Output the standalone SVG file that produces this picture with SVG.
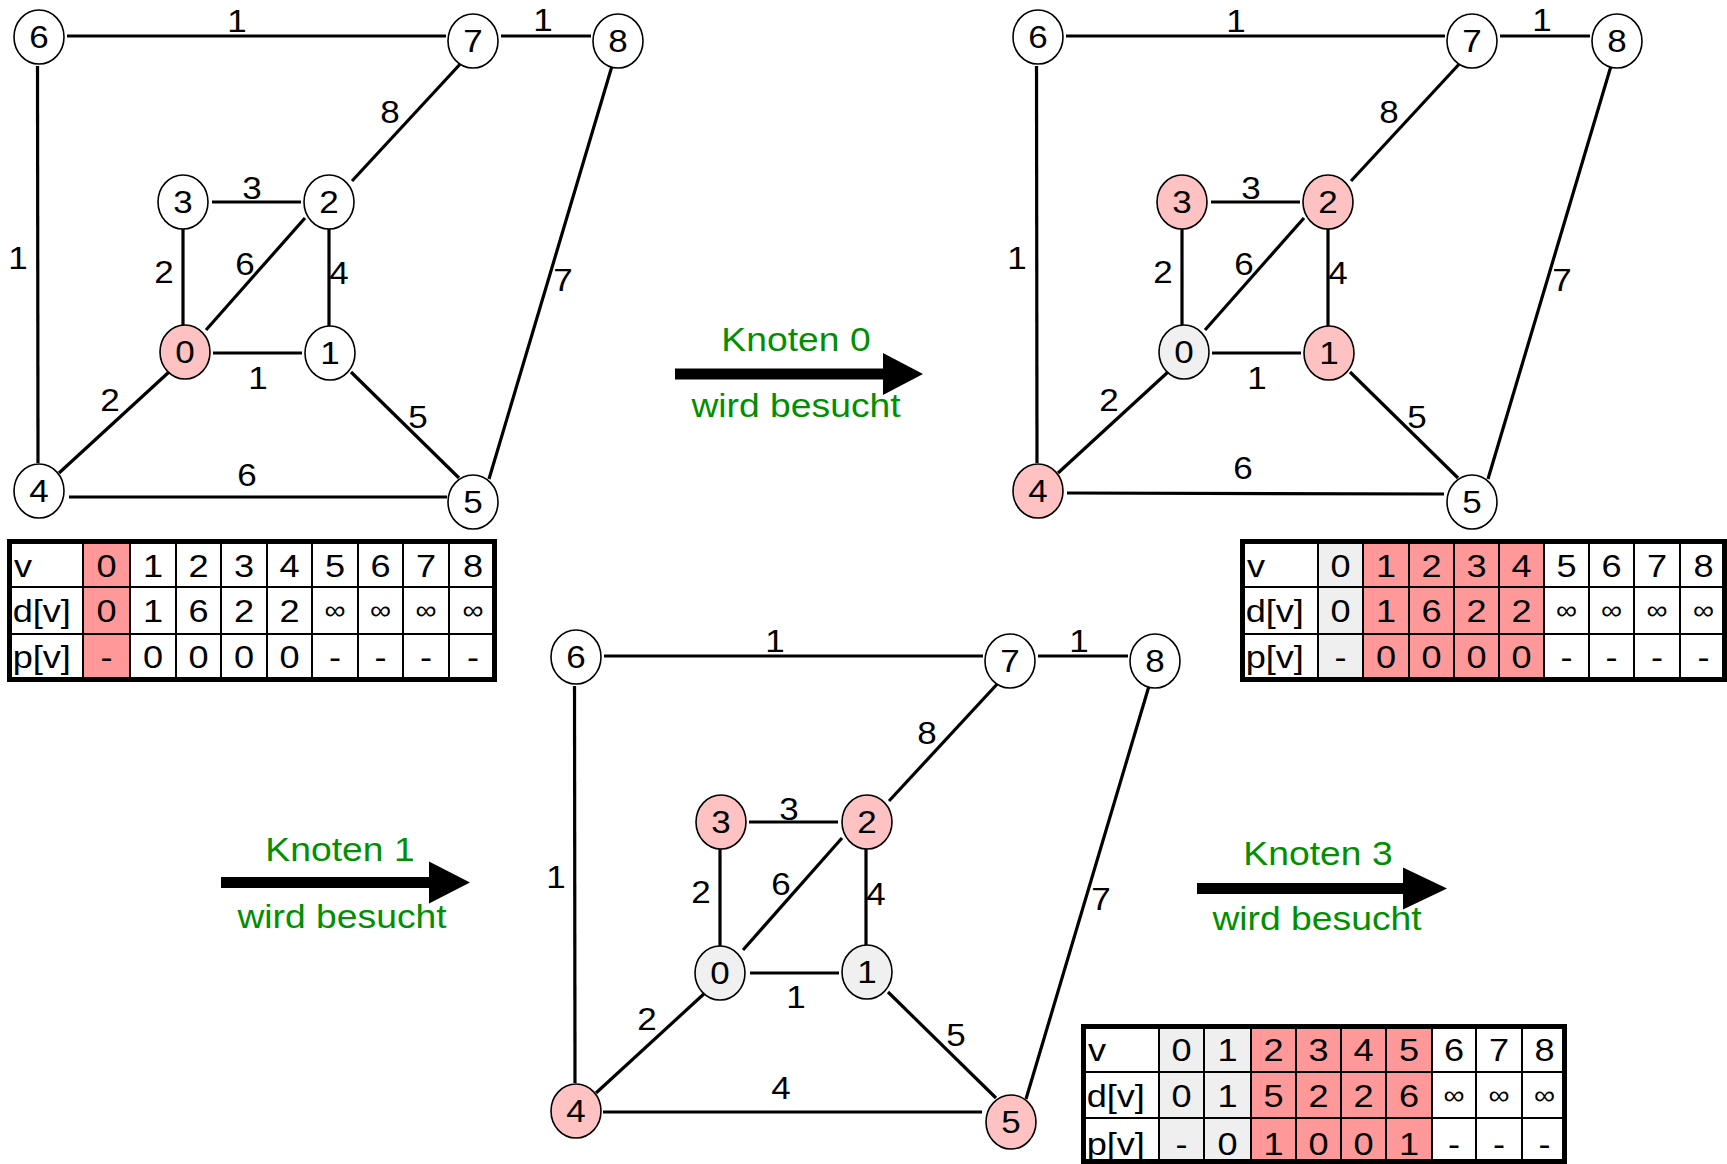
<svg xmlns="http://www.w3.org/2000/svg" width="1727" height="1164" viewBox="0 0 1727 1164">
<style>
text { font-family: "Liberation Sans", Arial, sans-serif; fill:#000; transform-box: fill-box; transform-origin: center; transform: scaleX(1.13); }
.edge line { stroke:#000; stroke-width:3.2; }
.node ellipse { stroke:#000; stroke-width:1.6; }
.w { fill:#fff; } .p { fill:#ffc2c2; } .g { fill:#f0f0f0; }
.nl { font-size:31px; text-anchor:middle; }
.el { font-size:31px; text-anchor:middle; }
.tc { font-size:32px; text-anchor:middle; }
.inf { font-size:26px; text-anchor:middle; }
.rl { font-size:32px; }
.cap { font-size:33px; text-anchor:middle; fill:#008f00; }
.grid line { stroke:#000; stroke-width:2; }
.tb { fill:none; stroke:#000; stroke-width:5; }
.pk { fill:#ff9999; } .gy { fill:#efefef; } .bg { fill:#fff; }
.shaft { stroke:#000; stroke-width:11; }
</style>

<!-- Graph 1 -->
<g id="graph1">
  <g id="g1-connectors" class="edge">
    <line x1="67" y1="36" x2="446" y2="36"/>
    <line x1="501" y1="36" x2="591" y2="36"/>
    <line x1="37.5" y1="66" x2="38" y2="463"/>
    <line x1="612" y1="66" x2="489" y2="479"/>
    <line x1="463" y1="61" x2="352" y2="181"/>
    <line x1="212" y1="202" x2="301" y2="202"/>
    <line x1="183" y1="229" x2="183" y2="326"/>
    <line x1="305" y1="218" x2="206" y2="330"/>
    <line x1="329" y1="229" x2="329" y2="326"/>
    <line x1="213" y1="353" x2="302" y2="353"/>
    <line x1="169" y1="372" x2="59" y2="473"/>
    <line x1="351" y1="372" x2="459" y2="478"/>
    <line x1="69" y1="497" x2="447" y2="497"/>
    <text class="el" x="237" y="32">1</text>
    <text class="el" x="543" y="31">1</text>
    <text class="el" x="390" y="123">8</text>
    <text class="el" x="252" y="199">3</text>
    <text class="el" x="164" y="283">2</text>
    <text class="el" x="245" y="275">6</text>
    <text class="el" x="339" y="284">4</text>
    <text class="el" x="18" y="269">1</text>
    <text class="el" x="563" y="291">7</text>
    <text class="el" x="258" y="389">1</text>
    <text class="el" x="110" y="411">2</text>
    <text class="el" x="418" y="428">5</text>
    <text class="el" x="247" y="486">6</text>
  </g>
  <g id="g1-n6" class="node"><ellipse class="w" cx="39" cy="37" rx="25" ry="27"/><text class="nl" x="39" y="48">6</text></g>
  <g id="g1-n7" class="node"><ellipse class="w" cx="473" cy="41" rx="25" ry="27"/><text class="nl" x="473" y="52">7</text></g>
  <g id="g1-n8" class="node"><ellipse class="w" cx="618" cy="41" rx="25" ry="27"/><text class="nl" x="618" y="52">8</text></g>
  <g id="g1-n3" class="node"><ellipse class="w" cx="183" cy="202" rx="25" ry="27"/><text class="nl" x="183" y="213">3</text></g>
  <g id="g1-n2" class="node"><ellipse class="w" cx="329" cy="202" rx="25" ry="27"/><text class="nl" x="329" y="213">2</text></g>
  <g id="g1-n0" class="node"><ellipse class="p" cx="185" cy="352" rx="25" ry="27"/><text class="nl" x="185" y="363">0</text></g>
  <g id="g1-n1" class="node"><ellipse class="w" cx="330" cy="353" rx="25" ry="27"/><text class="nl" x="330" y="364">1</text></g>
  <g id="g1-n4" class="node"><ellipse class="w" cx="39" cy="491" rx="25" ry="27"/><text class="nl" x="39" y="502">4</text></g>
  <g id="g1-n5" class="node"><ellipse class="w" cx="473" cy="502" rx="25" ry="27"/><text class="nl" x="473" y="513">5</text></g>
</g>

<!-- Graph 2 -->
<g id="graph2" transform="translate(999,0)">
  <g id="g2-connectors" class="edge">
    <line x1="67" y1="36" x2="446" y2="36"/>
    <line x1="501" y1="36" x2="591" y2="36"/>
    <line x1="37.5" y1="66" x2="38" y2="463"/>
    <line x1="612" y1="66" x2="489" y2="479"/>
    <line x1="463" y1="61" x2="352" y2="181"/>
    <line x1="212" y1="202" x2="301" y2="202"/>
    <line x1="183" y1="229" x2="183" y2="326"/>
    <line x1="305" y1="218" x2="206" y2="330"/>
    <line x1="329" y1="229" x2="329" y2="326"/>
    <line x1="213" y1="353" x2="302" y2="353"/>
    <line x1="169" y1="372" x2="59" y2="473"/>
    <line x1="351" y1="372" x2="459" y2="478"/>
    <line x1="68" y1="493" x2="445" y2="494"/>
    <text class="el" x="237" y="32">1</text>
    <text class="el" x="543" y="31">1</text>
    <text class="el" x="390" y="123">8</text>
    <text class="el" x="252" y="199">3</text>
    <text class="el" x="164" y="283">2</text>
    <text class="el" x="245" y="275">6</text>
    <text class="el" x="339" y="284">4</text>
    <text class="el" x="18" y="269">1</text>
    <text class="el" x="563" y="291">7</text>
    <text class="el" x="258" y="389">1</text>
    <text class="el" x="110" y="411">2</text>
    <text class="el" x="418" y="428">5</text>
    <text class="el" x="244" y="479">6</text>
  </g>
  <g id="g2-n6" class="node"><ellipse class="w" cx="39" cy="37" rx="25" ry="27"/><text class="nl" x="39" y="48">6</text></g>
  <g id="g2-n7" class="node"><ellipse class="w" cx="473" cy="41" rx="25" ry="27"/><text class="nl" x="473" y="52">7</text></g>
  <g id="g2-n8" class="node"><ellipse class="w" cx="618" cy="41" rx="25" ry="27"/><text class="nl" x="618" y="52">8</text></g>
  <g id="g2-n3" class="node"><ellipse class="p" cx="183" cy="202" rx="25" ry="27"/><text class="nl" x="183" y="213">3</text></g>
  <g id="g2-n2" class="node"><ellipse class="p" cx="329" cy="202" rx="25" ry="27"/><text class="nl" x="329" y="213">2</text></g>
  <g id="g2-n0" class="node"><ellipse class="g" cx="185" cy="352" rx="25" ry="27"/><text class="nl" x="185" y="363">0</text></g>
  <g id="g2-n1" class="node"><ellipse class="p" cx="330" cy="353" rx="25" ry="27"/><text class="nl" x="330" y="364">1</text></g>
  <g id="g2-n4" class="node"><ellipse class="p" cx="39" cy="491" rx="25" ry="27"/><text class="nl" x="39" y="502">4</text></g>
  <g id="g2-n5" class="node"><ellipse class="w" cx="473" cy="502" rx="25" ry="27"/><text class="nl" x="473" y="513">5</text></g>
</g>

<!-- Graph 3 -->
<g id="graph3" transform="translate(537,620)">
  <g id="g3-connectors" class="edge">
    <line x1="67" y1="36" x2="446" y2="36"/>
    <line x1="501" y1="36" x2="591" y2="36"/>
    <line x1="37.5" y1="66" x2="38" y2="463"/>
    <line x1="612" y1="66" x2="489" y2="479"/>
    <line x1="463" y1="61" x2="352" y2="181"/>
    <line x1="212" y1="202" x2="301" y2="202"/>
    <line x1="183" y1="229" x2="183" y2="326"/>
    <line x1="305" y1="218" x2="206" y2="330"/>
    <line x1="329" y1="229" x2="329" y2="326"/>
    <line x1="213" y1="353" x2="302" y2="353"/>
    <line x1="169" y1="372" x2="59" y2="473"/>
    <line x1="351" y1="372" x2="459" y2="478"/>
    <line x1="66" y1="492" x2="445" y2="492"/>
    <text class="el" x="238" y="32">1</text>
    <text class="el" x="542" y="32">1</text>
    <text class="el" x="390" y="124">8</text>
    <text class="el" x="252" y="200">3</text>
    <text class="el" x="164" y="283">2</text>
    <text class="el" x="244" y="275">6</text>
    <text class="el" x="339" y="285">4</text>
    <text class="el" x="19" y="268">1</text>
    <text class="el" x="564" y="290">7</text>
    <text class="el" x="259" y="388">1</text>
    <text class="el" x="110" y="410">2</text>
    <text class="el" x="419" y="426">5</text>
    <text class="el" x="244" y="479">4</text>
  </g>
  <g id="g3-n6" class="node"><ellipse class="w" cx="39" cy="37" rx="25" ry="27"/><text class="nl" x="39" y="48">6</text></g>
  <g id="g3-n7" class="node"><ellipse class="w" cx="473" cy="41" rx="25" ry="27"/><text class="nl" x="473" y="52">7</text></g>
  <g id="g3-n8" class="node"><ellipse class="w" cx="618" cy="41" rx="25" ry="27"/><text class="nl" x="618" y="52">8</text></g>
  <g id="g3-n3" class="node"><ellipse class="p" cx="184" cy="202" rx="25" ry="27"/><text class="nl" x="184" y="213">3</text></g>
  <g id="g3-n2" class="node"><ellipse class="p" cx="330" cy="202" rx="25" ry="27"/><text class="nl" x="330" y="213">2</text></g>
  <g id="g3-n0" class="node"><ellipse class="g" cx="183" cy="353" rx="25" ry="27"/><text class="nl" x="183" y="364">0</text></g>
  <g id="g3-n1" class="node"><ellipse class="g" cx="330" cy="352" rx="25" ry="27"/><text class="nl" x="330" y="363">1</text></g>
  <g id="g3-n4" class="node"><ellipse class="p" cx="39" cy="491" rx="25" ry="27"/><text class="nl" x="39" y="502">4</text></g>
  <g id="g3-n5" class="node"><ellipse class="p" cx="474" cy="502" rx="25" ry="27"/><text class="nl" x="474" y="513">5</text></g>
</g>

<!-- Table 1 -->
<g id="table1">
  <rect class="bg" x="7" y="539" width="490" height="143"/>
  <rect class="pk" x="83" y="539" width="47" height="143"/>
  <g class="grid">
    <line x1="83" y1="539" x2="83" y2="682"/><line x1="130" y1="539" x2="130" y2="682"/>
    <line x1="176" y1="539" x2="176" y2="682"/><line x1="221" y1="539" x2="221" y2="682"/>
    <line x1="267" y1="539" x2="267" y2="682"/><line x1="312" y1="539" x2="312" y2="682"/>
    <line x1="358" y1="539" x2="358" y2="682"/><line x1="403" y1="539" x2="403" y2="682"/>
    <line x1="449" y1="539" x2="449" y2="682"/>
    <line x1="7" y1="587" x2="497" y2="587"/><line x1="7" y1="634" x2="497" y2="634"/>
  </g>
  <rect class="tb" x="9.5" y="541.5" width="485" height="138"/>
  <text class="rl" x="15" y="577">v</text>
  <text class="rl" x="16" y="622">d[v]</text>
  <text class="rl" x="16" y="668">p[v]</text>
  <text class="tc" x="106.5" y="577">0</text><text class="tc" x="153" y="577">1</text><text class="tc" x="198.5" y="577">2</text>
  <text class="tc" x="244" y="577">3</text><text class="tc" x="289.5" y="577">4</text><text class="tc" x="335" y="577">5</text>
  <text class="tc" x="380.5" y="577">6</text><text class="tc" x="426" y="577">7</text><text class="tc" x="473" y="577">8</text>
  <text class="tc" x="106.5" y="622">0</text><text class="tc" x="153" y="622">1</text><text class="tc" x="198.5" y="622">6</text>
  <text class="tc" x="244" y="622">2</text><text class="tc" x="289.5" y="622">2</text>
  <text class="inf" x="335" y="619">∞</text><text class="inf" x="380.5" y="619">∞</text><text class="inf" x="426" y="619">∞</text><text class="inf" x="473" y="619">∞</text>
  <text class="tc" x="106.5" y="668">-</text><text class="tc" x="153" y="668">0</text><text class="tc" x="198.5" y="668">0</text>
  <text class="tc" x="244" y="668">0</text><text class="tc" x="289.5" y="668">0</text><text class="tc" x="335" y="668">-</text>
  <text class="tc" x="380.5" y="668">-</text><text class="tc" x="426" y="668">-</text><text class="tc" x="473" y="668">-</text>
</g>

<!-- Table 2 -->
<g id="table2">
  <rect class="bg" x="1240" y="539" width="487" height="143"/>
  <rect class="gy" x="1318" y="539" width="45" height="143"/>
  <rect class="pk" x="1363" y="539" width="181" height="143"/>
  <g class="grid">
    <line x1="1318" y1="539" x2="1318" y2="682"/><line x1="1363" y1="539" x2="1363" y2="682"/>
    <line x1="1409" y1="539" x2="1409" y2="682"/><line x1="1454" y1="539" x2="1454" y2="682"/>
    <line x1="1499" y1="539" x2="1499" y2="682"/><line x1="1544" y1="539" x2="1544" y2="682"/>
    <line x1="1589" y1="539" x2="1589" y2="682"/><line x1="1634" y1="539" x2="1634" y2="682"/>
    <line x1="1680" y1="539" x2="1680" y2="682"/>
    <line x1="1240" y1="587" x2="1727" y2="587"/><line x1="1240" y1="634" x2="1727" y2="634"/>
  </g>
  <rect class="tb" x="1242.5" y="541.5" width="482" height="138"/>
  <text class="rl" x="1248" y="577">v</text>
  <text class="rl" x="1249" y="622">d[v]</text>
  <text class="rl" x="1249" y="668">p[v]</text>
  <text class="tc" x="1340.5" y="577">0</text><text class="tc" x="1386" y="577">1</text><text class="tc" x="1431.5" y="577">2</text>
  <text class="tc" x="1476.5" y="577">3</text><text class="tc" x="1521.5" y="577">4</text><text class="tc" x="1566.5" y="577">5</text>
  <text class="tc" x="1611.5" y="577">6</text><text class="tc" x="1657" y="577">7</text><text class="tc" x="1703.5" y="577">8</text>
  <text class="tc" x="1340.5" y="622">0</text><text class="tc" x="1386" y="622">1</text><text class="tc" x="1431.5" y="622">6</text>
  <text class="tc" x="1476.5" y="622">2</text><text class="tc" x="1521.5" y="622">2</text>
  <text class="inf" x="1566.5" y="619">∞</text><text class="inf" x="1611.5" y="619">∞</text><text class="inf" x="1657" y="619">∞</text><text class="inf" x="1703.5" y="619">∞</text>
  <text class="tc" x="1340.5" y="668">-</text><text class="tc" x="1386" y="668">0</text><text class="tc" x="1431.5" y="668">0</text>
  <text class="tc" x="1476.5" y="668">0</text><text class="tc" x="1521.5" y="668">0</text><text class="tc" x="1566.5" y="668">-</text>
  <text class="tc" x="1611.5" y="668">-</text><text class="tc" x="1657" y="668">-</text><text class="tc" x="1703.5" y="668">-</text>
</g>

<!-- Table 3 -->
<g id="table3">
  <rect class="bg" x="1081" y="1024" width="486" height="140"/>
  <rect class="gy" x="1159" y="1024" width="92" height="140"/>
  <rect class="pk" x="1251" y="1024" width="181" height="140"/>
  <g class="grid">
    <line x1="1159" y1="1024" x2="1159" y2="1164"/><line x1="1204" y1="1024" x2="1204" y2="1164"/>
    <line x1="1251" y1="1024" x2="1251" y2="1164"/><line x1="1296" y1="1024" x2="1296" y2="1164"/>
    <line x1="1341" y1="1024" x2="1341" y2="1164"/><line x1="1386" y1="1024" x2="1386" y2="1164"/>
    <line x1="1432" y1="1024" x2="1432" y2="1164"/><line x1="1476" y1="1024" x2="1476" y2="1164"/>
    <line x1="1522" y1="1024" x2="1522" y2="1164"/>
    <line x1="1081" y1="1072" x2="1567" y2="1072"/><line x1="1081" y1="1118" x2="1567" y2="1118"/>
  </g>
  <rect class="tb" x="1083.5" y="1026.5" width="481" height="135"/>
  <text class="rl" x="1089" y="1061">v</text>
  <text class="rl" x="1090" y="1107">d[v]</text>
  <text class="rl" x="1090" y="1155">p[v]</text>
  <text class="tc" x="1181.5" y="1061">0</text><text class="tc" x="1227.5" y="1061">1</text><text class="tc" x="1273.5" y="1061">2</text>
  <text class="tc" x="1318.5" y="1061">3</text><text class="tc" x="1363.5" y="1061">4</text><text class="tc" x="1409" y="1061">5</text>
  <text class="tc" x="1454" y="1061">6</text><text class="tc" x="1499" y="1061">7</text><text class="tc" x="1544.5" y="1061">8</text>
  <text class="tc" x="1181.5" y="1107">0</text><text class="tc" x="1227.5" y="1107">1</text><text class="tc" x="1273.5" y="1107">5</text>
  <text class="tc" x="1318.5" y="1107">2</text><text class="tc" x="1363.5" y="1107">2</text><text class="tc" x="1409" y="1107">6</text>
  <text class="inf" x="1454" y="1104">∞</text><text class="inf" x="1499" y="1104">∞</text><text class="inf" x="1544.5" y="1104">∞</text>
  <text class="tc" x="1181.5" y="1155">-</text><text class="tc" x="1227.5" y="1155">0</text><text class="tc" x="1273.5" y="1155">1</text>
  <text class="tc" x="1318.5" y="1155">0</text><text class="tc" x="1363.5" y="1155">0</text><text class="tc" x="1409" y="1155">1</text>
  <text class="tc" x="1454" y="1155">-</text><text class="tc" x="1499" y="1155">-</text><text class="tc" x="1544.5" y="1155">-</text>
</g>

<!-- Step arrows -->
<g id="arrow1">
  <line class="shaft" x1="675" y1="374" x2="885" y2="374"/>
  <polygon points="883,353 923,374 883,395"/>
  <text class="cap" x="796" y="351">Knoten 0</text>
  <text class="cap" x="796" y="417">wird besucht</text>
</g>
<g id="arrow2">
  <line class="shaft" x1="221" y1="882.5" x2="431" y2="882.5"/>
  <polygon points="429,861.5 470,882.5 429,903.5"/>
  <text class="cap" x="340" y="861">Knoten 1</text>
  <text class="cap" x="342" y="928">wird besucht</text>
</g>
<g id="arrow3">
  <line class="shaft" x1="1197" y1="888.5" x2="1405" y2="888.5"/>
  <polygon points="1403,867.5 1447,888.5 1403,909.5"/>
  <text class="cap" x="1318" y="865">Knoten 3</text>
  <text class="cap" x="1317" y="930">wird besucht</text>
</g>
</svg>
